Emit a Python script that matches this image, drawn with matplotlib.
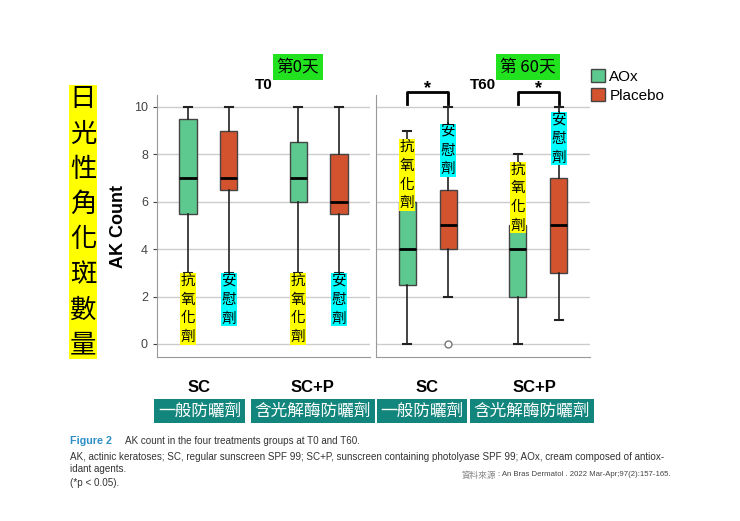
import matplotlib
matplotlib.use('Agg')
import matplotlib.pyplot as plt
from matplotlib.patches import Patch

plt.rcParams['font.family'] = ['Liberation Sans', 'Noto Sans CJK TC', 'DejaVu Sans']
CJK = ['Noto Sans CJK TC', 'DejaVu Sans']

# AK count box stats: (whislo, q1, med, q3, whishi)
groups = ['SC', 'SC+P']
groups_zh = ['一般防曬劑', '含光解酶防曬劑']
treatments = ['AOx', 'Placebo']
panels = ['T0', 'T60']
panel_zh = ['第0天', '第 60天']

t0_aox = [(3, 5.5, 7, 9.5, 10), (3, 6, 7, 8.5, 10)]
t0_placebo = [(3, 6.5, 7, 9, 10), (3, 5.5, 6, 8, 10)]
t60_aox = [(0, 2.5, 4, 6, 9), (0, 2, 4, 5, 8)]
t60_placebo = [(2, 4, 5, 6.5, 10), (1, 3, 5, 7, 10)]
t60_placebo_outliers = [[0], []]
yticks = [0, 2, 4, 6, 8, 10]

c_aox = '#5DC98E'
c_pla = '#D4532F'
teal = '#12857C'


def make_stats(vals, fliers=None):
    lo, q1, med, q3, hi = vals
    return dict(whislo=lo, q1=q1, med=med, q3=q3, whishi=hi, fliers=fliers or [])


fig = plt.figure(figsize=(7.4, 5.21), dpi=100)
ax1 = fig.add_axes([157 / 740, 1 - 357 / 521, 213 / 740, 262 / 521])
ax2 = fig.add_axes([376 / 740, 1 - 357 / 521, 214 / 740, 262 / 521])

data = [(t0_aox, t0_placebo, [[], []]), (t60_aox, t60_placebo, t60_placebo_outliers)]
pos_aox = [1, 3.7]
pos_pla = [2, 4.7]

for ax, (aox, pla, outl), title in zip([ax1, ax2], data, panels):
    st_a = [make_stats(v) for v in aox]
    st_p = [make_stats(v, o) for v, o in zip(pla, outl)]
    for stats, pos, col in [(st_a, pos_aox, c_aox), (st_p, pos_pla, c_pla)]:
        ax.bxp(stats, positions=pos, widths=0.42, patch_artist=True, showfliers=True,
               boxprops=dict(facecolor=col, edgecolor='#444444', linewidth=1),
               medianprops=dict(color='black', linewidth=2),
               whiskerprops=dict(color='#222222', linewidth=1.2),
               capprops=dict(color='#222222', linewidth=1.5),
               flierprops=dict(marker='o', markerfacecolor='white', markeredgecolor='#777777',
                               markersize=5))
    ax.set_xlim(0.24, 5.46)
    ax.set_ylim(-0.55, 10.5)
    ax.set_yticks(yticks)
    ax.set_xticks([])
    ax.grid(axis='y', color='#cccccc', linewidth=1)
    ax.set_axisbelow(True)
    for s in ['top', 'right']:
        ax.spines[s].set_visible(False)
    for s in ['left', 'bottom']:
        ax.spines[s].set_color('#999999')
    ax.set_title(title, fontsize=11, fontweight='bold', pad=4)

ax1.tick_params(axis='y', labelsize=9, colors='#444444', length=3)
ax2.tick_params(axis='y', labelleft=False, length=0)
ax1.set_ylabel('AK Count', fontsize=13, fontweight='bold', labelpad=5)

# significance brackets at T60
for pa, pp in zip(pos_aox, pos_pla):
    ax2.plot([pa, pa, pp, pp], [10.13, 10.63, 10.63, 10.13], color='black', lw=2, clip_on=False)
    ax2.text((pa + pp) / 2, 10.58, '*', ha='center', va='baseline', fontsize=13, fontweight='bold')

# vertical Chinese labels inside the panels
lab_aox = '\n'.join('抗氧化劑')
lab_pla = '\n'.join('安慰劑')
top_t0 = [2.95, 2.95]
top_t60_aox = [8.6, 7.65]
top_t60_pla = [9.25, 9.75]
small = dict(ha='center', va='top', fontsize=10.5, family=CJK, linespacing=1.43)
for i in range(2):
    ax1.text(pos_aox[i], top_t0[i], lab_aox, bbox=dict(facecolor='yellow', edgecolor='none', pad=0.5), **small)
    ax1.text(pos_pla[i], top_t0[i], lab_pla, bbox=dict(facecolor='cyan', edgecolor='none', pad=0.5), **small)
    ax2.text(pos_aox[i], top_t60_aox[i], lab_aox, bbox=dict(facecolor='yellow', edgecolor='none', pad=0.5), **small)
    ax2.text(pos_pla[i], top_t60_pla[i], lab_pla, bbox=dict(facecolor='cyan', edgecolor='none', pad=0.5), **small)

# green day labels
for x, txt in zip([298 / 740, 528 / 740], panel_zh):
    fig.text(x, 1 - 67 / 521, txt, ha='center', va='center', fontsize=12, family=CJK,
             bbox=dict(facecolor='#22E21F', edgecolor='none', pad=3))

# big yellow label on the left
fig.text(83 / 740, 1 - 222 / 521, '\n'.join('日光性角化斑數量'), ha='center', va='center',
         fontsize=19, family=CJK, linespacing=1.39,
         bbox=dict(facecolor='yellow', edgecolor='none', pad=0.5))

# legend
handles = [Patch(facecolor=c_aox, edgecolor='#444444', label='AOx'),
           Patch(facecolor=c_pla, edgecolor='#444444', label='Placebo')]
fig.legend(handles=handles, loc='upper left', bbox_to_anchor=(585 / 740, 1 - 63 / 521),
           frameon=False, fontsize=11, handlelength=0.9, handleheight=0.9,
           handletextpad=0.3, labelspacing=0.3, borderaxespad=0)

# group labels below the panels
for x, g in zip([199, 312, 427, 534], groups * 2):
    fig.text(x / 740, 1 - 387 / 521, g, ha='center', va='center', fontsize=12, fontweight='bold')
for x, g in zip([199.5, 313, 422, 532], groups_zh * 2):
    fig.text(x / 740, 1 - 411 / 521, g, ha='center', va='center', fontsize=12, family=CJK,
             color='white', bbox=dict(facecolor=teal, edgecolor='none', pad=2.5))

# caption
fs = 7.15
fig.text(70 / 740, 1 - 441 / 521, 'Figure 2', ha='left', va='center', fontsize=fs + 0.6,
         color='#2E8FC4', fontweight='bold')
fig.text(125 / 740, 1 - 441 / 521, 'AK count in the four treatments groups at T0 and T60.',
         ha='left', va='center', fontsize=fs, color='#333333')
fig.text(70 / 740, 1 - 457 / 521,
         'AK, actinic keratoses; SC, regular sunscreen SPF 99; SC+P, sunscreen containing '
         'photolyase SPF 99; AOx, cream composed of antiox-',
         ha='left', va='center', fontsize=fs, color='#333333')
fig.text(70 / 740, 1 - 469 / 521, 'idant agents.', ha='left', va='center', fontsize=fs,
         color='#333333')
fig.text(70 / 740, 1 - 483 / 521, '(*p < 0.05).', ha='left', va='center', fontsize=fs,
         color='#333333')
fig.text(462 / 740, 1 - 475 / 521, '資料來源', ha='left', va='center', fontsize=6.2,
         color='#888888', family=CJK)
fig.text(498 / 740, 1 - 475 / 521, ': An Bras Dermatol . 2022 Mar-Apr;97(2):157-165.',
         ha='left', va='center', fontsize=5.6, color='#444444')

fig.savefig('out.png', dpi=100)
